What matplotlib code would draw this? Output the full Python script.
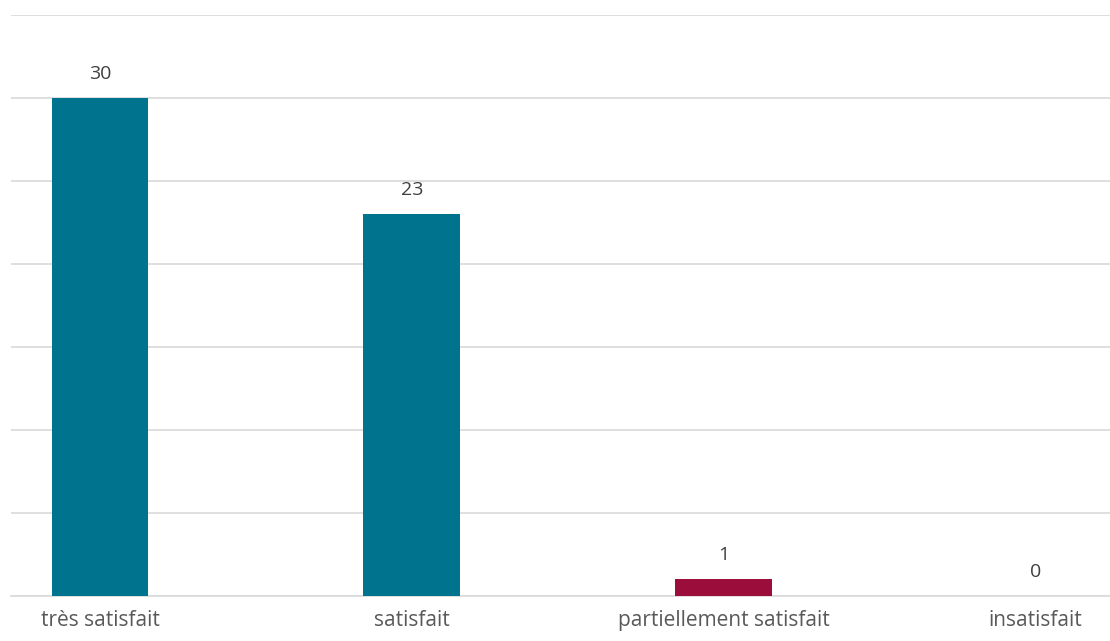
import matplotlib.pyplot as plt

categories = ["très satisfait", "satisfait", "partiellement satisfait", "insatisfait"]
values = [30, 23, 1, 0]
colors = ["#00748F", "#00748F", "#9B0D3A", "#00748F"]

plt.rcParams['font.family'] = ['Open Sans', 'DejaVu Sans']

fig = plt.figure(figsize=(11.1, 6.41), dpi=100)
ax = fig.add_axes([11 / 1110, 45 / 641, 1099 / 1110, 581 / 641])

x = list(range(len(categories)))
bars = ax.bar(x, values, width=0.31, color=colors, zorder=3)

for xi, v in zip(x, values):
    ax.annotate(str(v), (xi, v), xytext=(0, 11), textcoords="offset points",
                ha="center", va="bottom", fontsize=14, color="#404040")

ax.set_ylim(0, 35)
ax.set_xlim(-0.2856, 3.24)
ax.set_yticks(range(0, 36, 5))
ax.set_yticklabels([])
ax.set_xticks(x)
ax.set_xticklabels(categories, fontsize=15, color="#595959")
ax.tick_params(axis="both", length=0)
ax.tick_params(axis="x", pad=10)
ax.grid(axis="y", color="#d9d9d9", linewidth=1.2, zorder=0)
for s in ["top", "right", "left"]:
    ax.spines[s].set_visible(False)
ax.spines["bottom"].set_color("#d9d9d9")
ax.spines["bottom"].set_linewidth(1.2)

fig.savefig("out.png", dpi=100)
